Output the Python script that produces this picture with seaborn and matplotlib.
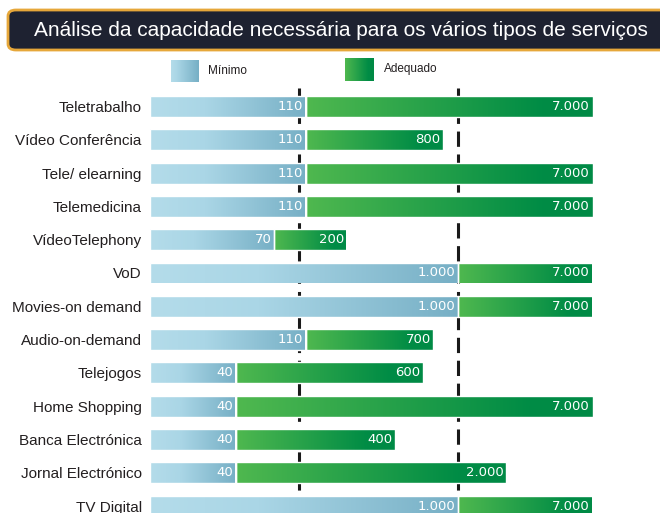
import numpy as np
import pandas as pd
import matplotlib
matplotlib.use("Agg")
import matplotlib.pyplot as plt
import seaborn as sns
from matplotlib.patches import FancyBboxPatch
from matplotlib.colors import to_rgb

# ---------------- data ----------------
categories = ["Teletrabalho", "Vídeo Conferência", "Tele/ elearning", "Telemedicina",
              "VídeoTelephony", "VoD", "Movies-on demand", "Audio-on-demand",
              "Telejogos", "Home Shopping", "Banca Electrónica", "Jornal Electrónico",
              "TV Digital"]
minimo = [110, 110, 110, 110, 70, 1000, 1000, 110, 40, 40, 40, 40, 1000]
adequado = [7000, 800, 7000, 7000, 200, 7000, 7000, 700, 600, 7000, 400, 2000, 7000]
title = "Análise da capacidade necessária para os vários tipos de serviços"
series_names = ["Mínimo", "Adequado"]
ref_lines = [100, 1000]

# ---------------- style ----------------
W, H, DPI = 660, 513, 100
XMIN = 11.6
PX_PER_DEC = 159.2
AX_LEFT_PX, AX_RIGHT_PX = 150, 640
AX_TOP_PX, AX_BOT_PX = 88, 513
ROW_PX = 33.3
FIRST_ROW_PX = 106.5
BAR_H = 21 / ROW_PX

BLUE_STOPS = [(0.0, "#b4dcea"), (0.35, "#aad6e6"), (1.0, "#76afc5")]
GREEN_STOPS = [(0.0, "#4fb84f"), (0.82, "#008c45"), (1.0, "#008a45")]

sns.set_theme(style="white")
plt.rcParams["font.family"] = ["Liberation Sans", "DejaVu Sans"]

fig = plt.figure(figsize=(W / DPI, H / DPI), dpi=DPI)
ax = fig.add_axes([AX_LEFT_PX / W, (H - AX_BOT_PX) / H,
                   (AX_RIGHT_PX - AX_LEFT_PX) / W, (AX_BOT_PX - AX_TOP_PX) / H])

df = pd.DataFrame({"cat": categories, "min": minimo, "adq": adequado})

sns.barplot(data=df, x="adq", y="cat", orient="h", ax=ax, width=BAR_H,
            color="#2ca24a", linewidth=0, order=categories)
n = len(categories)
green_patches = list(ax.patches[:n])
sns.barplot(data=df, x="min", y="cat", orient="h", ax=ax, width=BAR_H,
            color="#9ccfe0", linewidth=0, order=categories)
blue_patches = list(ax.patches[n:2 * n])

ax.set_xscale("log")
xmax = 10 ** (np.log10(XMIN) + (AX_RIGHT_PX - AX_LEFT_PX) / PX_PER_DEC)
y_top = -(FIRST_ROW_PX - AX_TOP_PX) / ROW_PX
y_bot = (AX_BOT_PX - FIRST_ROW_PX) / ROW_PX


def stops_color(t, stops):
    pos = np.array([s[0] for s in stops])
    cols = np.array([to_rgb(s[1]) for s in stops])
    return np.stack([np.interp(t, pos, cols[:, k]) for k in range(3)], axis=-1)


def gradient_fill(patch, x0, x1, stops):
    yb = patch.get_y()
    hh = patch.get_height()
    patch.set_x(x0)
    patch.set_width(x1 - x0)
    xs = np.linspace(x0, x1, 2000)
    t = (np.log10(xs) - np.log10(x0)) / (np.log10(x1) - np.log10(x0))
    img = stops_color(t, stops)[None, :, :]
    im = ax.imshow(img, extent=[x0, x1, yb + hh, yb], aspect="auto",
                   interpolation="bilinear", zorder=2)
    im.set_clip_path(patch)
    patch.set_facecolor("none")
    patch.set_edgecolor("white")
    patch.set_linewidth(1.0)
    patch.set_zorder(3)


for i in range(n):
    gradient_fill(green_patches[i], minimo[i], adequado[i], GREEN_STOPS)
    gradient_fill(blue_patches[i], XMIN, minimo[i], BLUE_STOPS)


def fmt(v):
    return f"{v:,}".replace(",", ".")


for i in range(n):
    ax.annotate(fmt(minimo[i]), (minimo[i], i), xytext=(-2, 0), textcoords="offset points",
                ha="right", va="center", color="white", fontsize=9.5,
                family="DejaVu Sans", zorder=5)
    ax.annotate(fmt(adequado[i]), (adequado[i], i), xytext=(-2, 0), textcoords="offset points",
                ha="right", va="center", color="white", fontsize=9.5,
                family="DejaVu Sans", zorder=5)

for v in ref_lines:
    ax.axvline(v, color="#1a1a1a", lw=2.2, linestyle=(0, (5, 2.5)), zorder=1)

ax.set_xlim(XMIN, xmax)
ax.set_ylim(y_bot, y_top)
ax.set_xlabel("")
ax.set_ylabel("")
ax.set_xticks([])
ax.minorticks_off()
ax.xaxis.set_minor_locator(matplotlib.ticker.NullLocator())
ax.tick_params(axis="y", length=0, pad=6, labelsize=11, labelcolor="#231f20")
for s in ax.spines.values():
    s.set_visible(False)
ax.patch.set_alpha(0)

# ---------------- title box ----------------
box = FancyBboxPatch((8 / W, 1 - 50 / H), 662 / W, 40 / H,
                     boxstyle="round,pad=0,rounding_size=0.012",
                     transform=fig.transFigure, facecolor="#1e2231",
                     edgecolor="#e6a73a", linewidth=2, clip_on=False)
fig.add_artist(box)
fig.text(341 / W, 1 - 30 / H, title, ha="center", va="center", color="white",
         fontsize=15.0, family=["Liberation Sans", "DejaVu Sans"])

# ---------------- legend ----------------
def legend_patch(x0, x1, y0, y1, stops):
    lax = fig.add_axes([x0 / W, 1 - y1 / H, (x1 - x0) / W, (y1 - y0) / H])
    t = np.linspace(0, 1, 200)
    lax.imshow(stops_color(t, stops)[None, :, :], aspect="auto", extent=[0, 1, 0, 1])
    lax.set_axis_off()


legend_patch(171, 199, 60, 82, [(0.0, "#b4dcea"), (0.2, "#aad6e6"), (1.0, "#76afc5")])
legend_patch(345, 374, 58, 81, [(0.0, "#4fb84f"), (0.8, "#008c45"), (1.0, "#008a45")])
fig.text(208 / W, 1 - 71 / H, series_names[0], ha="left", va="center",
         fontsize=8.5, color="#231f20")
fig.text(384 / W, 1 - 69 / H, series_names[1], ha="left", va="center",
         fontsize=8.5, color="#231f20")

fig.savefig("out.png", dpi=DPI)
